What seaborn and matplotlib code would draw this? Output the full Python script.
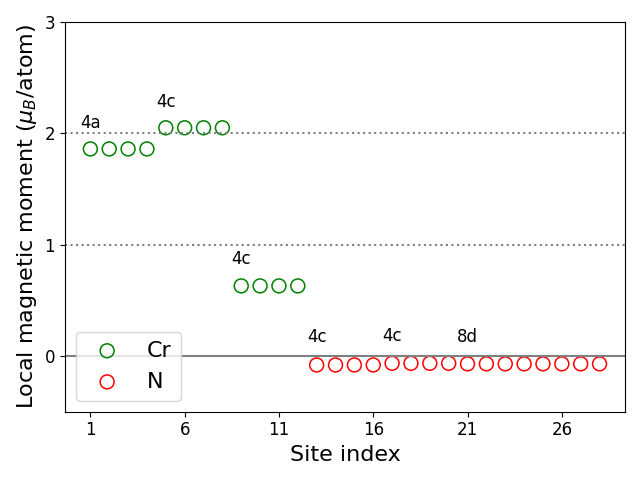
import matplotlib
matplotlib.use("Agg")
import matplotlib.pyplot as plt
import seaborn as sns
import numpy as np
import pandas as pd

cr_sites = [1, 2, 3, 4, 5, 6, 7, 8, 9, 10, 11, 12]
cr_moments = [1.86, 1.86, 1.86, 1.86, 2.05, 2.05, 2.05, 2.05, 0.63, 0.63, 0.63, 0.63]
n_sites = list(range(13, 29))
n_moments = [-0.08, -0.08, -0.08, -0.08, -0.065, -0.065, -0.065, -0.065,
             -0.07, -0.07, -0.07, -0.07, -0.07, -0.07, -0.07, -0.07]
labels = ["4a", "4c", "4c", "4c", "4c", "8d"]
label_x = [1, 5, 9, 13, 17, 21]
label_y = [2.01, 2.20, 0.79, 0.09, 0.10, 0.09]
xticks = [1, 6, 11, 16, 21, 26]

fig, ax = plt.subplots(figsize=(6.4, 4.8), dpi=100)

ax.axhline(2, color="gray", linestyle=":", lw=1.5)
ax.axhline(1, color="gray", linestyle=":", lw=1.5)
ax.axhline(0, color="gray", linestyle="-", lw=1.5)

cr = pd.DataFrame({"site": cr_sites, "m": cr_moments})
nn = pd.DataFrame({"site": n_sites, "m": n_moments})
sns.scatterplot(data=cr, x="site", y="m", ax=ax, marker="o", s=100,
                facecolor="none", edgecolor="green", linewidth=1.1, label="Cr")
sns.scatterplot(data=nn, x="site", y="m", ax=ax, marker="o", s=100,
                facecolor="none", edgecolor="red", linewidth=1.1, label="N")

for t, x, y in zip(labels, label_x, label_y):
    ax.text(x, y, t, fontsize=12, ha="center", va="bottom")

ax.set_xticks(xticks)
ax.set_xlim(-0.35, 29.35)
ax.set_ylim(-0.5, 3)
ax.set_yticks([0, 1, 2, 3])
ax.tick_params(labelsize=12)
ax.set_xlabel("Site index", fontsize=16)
ax.set_ylabel(r"Local magnetic moment ($\mu_B$/atom)", fontsize=16)
ax.legend(loc="lower left", fontsize=16)

fig.tight_layout()
fig.savefig("out.png", dpi=100)
